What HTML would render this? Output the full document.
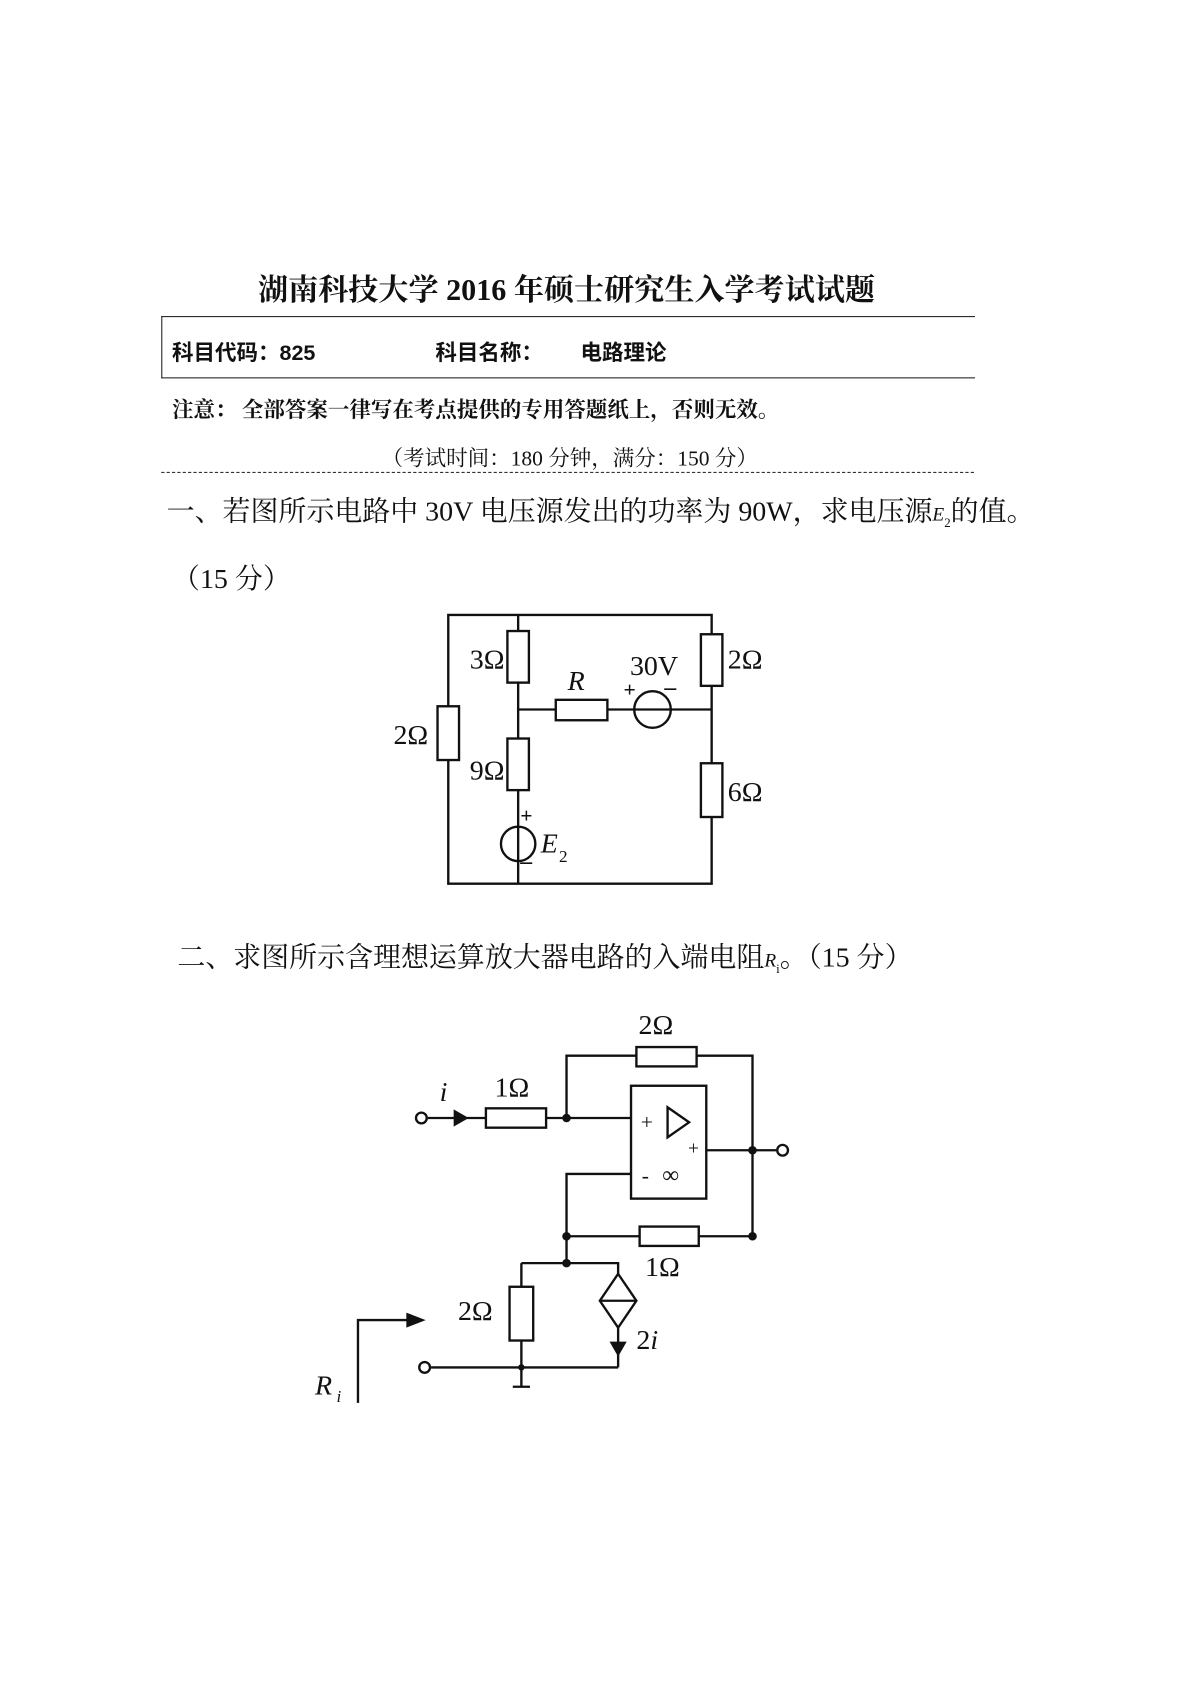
<!DOCTYPE html>
<html><head><meta charset="utf-8"><style>
html,body{margin:0;background:#fff;overflow:hidden;width:1190px;height:1683px;}
.t{position:absolute;font-family:"Liberation Serif","Noto Serif CJK SC",serif;color:#111;white-space:nowrap;}
</style></head><body>
<div style="position:relative;width:1190px;height:1683px;overflow:hidden;">
<div style="position:absolute;left:0;top:0;width:1100px;height:1560px;transform:scale(1.075);transform-origin:0 0;">
<div class="t" style="left:240px;top:248px;font-size:28px;font-weight:bold;">湖南科技大学 2016 年硕士研究生入学考试试题</div>
<div style="position:absolute;left:150px;top:294px;width:756px;height:56px;border-top:1.5px solid #222;border-bottom:1.5px solid #222;border-left:1.5px solid #222;"></div>
<div class="t" style="left:160px;top:312px;font-size:20px;font-weight:bold;font-family:'Liberation Sans','Noto Sans CJK SC',sans-serif;">科目代码：825</div>
<div class="t" style="left:405px;top:312px;font-size:20px;font-weight:bold;font-family:'Liberation Sans','Noto Sans CJK SC',sans-serif;">科目名称：</div>
<div class="t" style="left:540px;top:312px;font-size:20px;font-weight:bold;font-family:'Liberation Sans','Noto Sans CJK SC',sans-serif;">电路理论</div>
<div class="t" style="left:160px;top:365px;font-size:20px;font-weight:bold;">注意： 全部答案一律写在考点提供的专用答题纸上，否则无效。</div>
<div class="t" style="left:355px;top:410px;font-size:20px;">（考试时间：180 分钟，满分：150 分）</div>
<div style="position:absolute;left:150px;top:439px;width:756px;border-top:1.5px dashed #333;"></div>
<div class="t" style="left:155px;top:455px;font-size:26px;">一、若图所示电路中 30V 电压源发出的功率为 90W，求电压源<i style="font-size:18px">E</i><sub style="font-size:12px">2</sub>的值。</div>
<div class="t" style="left:160px;top:518px;font-size:26px;">（15 分）</div>
<div class="t" style="left:165px;top:870px;font-size:26px;">二、求图所示含理想运算放大器电路的入端电阻<i style="font-size:18px">R</i><sub style="font-size:12px">i</sub>。（15 分）</div>
<svg width="1100" height="1400" style="position:absolute;left:0;top:0" font-family="Liberation Serif" font-size="26" fill="none" stroke="#111" stroke-width="2.2">
<path d="M417 572H662V822H417Z M482 572V822 M482 660H662"/>
<g fill="#fff">
<rect x="472" y="587" width="20" height="48"/><rect x="472" y="687" width="20" height="48"/>
<rect x="407" y="657" width="20" height="50"/><rect x="517" y="651" width="48" height="19"/>
<rect x="652" y="590" width="20" height="48"/><rect x="652" y="710" width="20" height="50"/>
<circle cx="482" cy="785" r="16"/><circle cx="607" cy="660" r="17"/>
</g>
<path d="M482 769V801 M590 660H624"/>
<g fill="#111" stroke="none">
<text x="437" y="622">3Ω</text><text x="437" y="725">9Ω</text><text x="366" y="692">2Ω</text>
<text x="677" y="622">2Ω</text><text x="677" y="745">6Ω</text>
<text x="528" y="642" font-style="italic">R</text><text x="586" y="628">30V</text>
<text x="580" y="648" font-size="20" font-weight="bold">+</text><text x="618" y="646" font-size="22" font-weight="bold">–</text>
<text x="484" y="765" font-size="20" font-weight="bold">+</text><text x="484" y="808" font-size="22" font-weight="bold">–</text>
<text x="503" y="793" font-style="italic">E</text><text x="520" y="802" font-size="16">2</text>
</g>
<path d="M527 1040V982H700V1150 M398 1040H452 M508 1040H587 M657 1070H722 M587 1092H527V1175 M527 1150H700 M485 1175H575V1272 M485 1175V1272 M401 1272H575 M485 1272V1290 M477 1290H493 M333 1305V1228H380"/>
<g fill="#fff">
<rect x="592" y="974" width="56" height="18"/><rect x="452" y="1031" width="56" height="18"/>
<rect x="595" y="1141" width="55" height="18"/><rect x="474" y="1197" width="22" height="50"/>
<rect x="587" y="1010" width="70" height="105"/>
<path d="M575 1185L592 1210L575 1235L558 1210Z"/><path d="M558 1210H592"/>
<circle cx="392" cy="1040" r="5"/><circle cx="728" cy="1070" r="5"/><circle cx="395" cy="1272" r="5"/>
</g>
<path d="M621 1030V1058L641 1044Z"/>
<g fill="#111" stroke="none">
<path d="M422 1032L436 1040L422 1048Z"/><path d="M567 1248L583 1248L575 1262Z"/><path d="M378 1221L396 1228L378 1235Z"/>
<circle cx="527" cy="1040" r="4"/><circle cx="700" cy="1070" r="4"/><circle cx="527" cy="1150" r="4"/><circle cx="700" cy="1150" r="4"/><circle cx="527" cy="1175" r="4"/><circle cx="485" cy="1272" r="3"/>
<text x="594" y="962">2Ω</text><text x="460" y="1020">1Ω</text><text x="409" y="1024" font-style="italic">i</text>
<text x="600" y="1187">1Ω</text><text x="426" y="1228">2Ω</text><text x="592" y="1255">2<tspan font-style="italic">i</tspan></text>
<text x="293" y="1297" font-style="italic">R</text><text x="313" y="1304" font-size="16" font-style="italic">i</text>
<text x="596" y="1050" font-size="20">+</text><text x="640" y="1074" font-size="18">+</text>
<text x="597" y="1100" font-size="20">-</text><text x="616" y="1100" font-size="22">∞</text>
</g>
</svg>
</div>
</div>
</body></html>
